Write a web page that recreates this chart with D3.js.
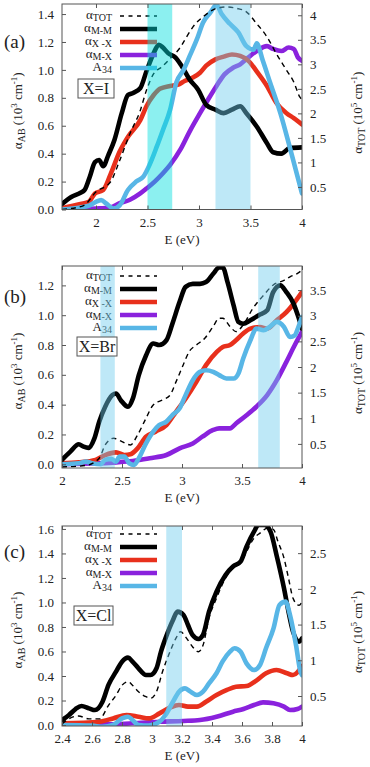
<!DOCTYPE html>
<html>
<head>
<meta charset="utf-8">
<script src="https://cdn.jsdelivr.net/npm/d3@7"></script>
<style>
body { margin: 0; background: #fff; }
</style>
</head>
<body>
<script>
// ---- data: [E (eV), value] ----
// panel (a) X=I
var a_tot = [[1.67,0.04],[1.88,0.12],[2.0,0.40],[2.14,0.60],[2.23,1.04],[2.33,1.59],[2.43,2.06],[2.49,2.47],[2.56,2.81],[2.64,2.95],[2.72,3.12],[2.82,3.35],[2.88,3.56],[2.94,3.76],[3.04,3.97],[3.17,4.14],[3.27,4.17],[3.37,4.14],[3.46,4.07],[3.56,3.83],[3.66,3.56],[3.75,3.22],[3.85,2.88],[3.92,2.64],[3.98,2.33],[4.0,2.28]];
var a_mm = [[1.67,0.04],[1.76,0.09],[1.85,0.12],[1.89,0.14],[1.94,0.235],[1.99,0.34],[2.03,0.355],[2.07,0.31],[2.12,0.39],[2.18,0.50],[2.25,0.69],[2.31,0.82],[2.36,0.835],[2.43,0.87],[2.49,0.99],[2.56,1.12],[2.61,1.18],[2.65,1.16],[2.70,1.12],[2.77,1.09],[2.83,1.03],[2.91,0.93],[2.99,0.86],[3.07,0.75],[3.16,0.715],[3.24,0.69],[3.32,0.715],[3.40,0.74],[3.46,0.69],[3.56,0.595],[3.66,0.475],[3.72,0.41],[3.80,0.40],[3.88,0.44],[4.0,0.445]];
var a_xx = [[1.67,0.01],[1.85,0.04],[1.93,0.055],[1.99,0.115],[2.07,0.14],[2.14,0.25],[2.23,0.415],[2.31,0.52],[2.43,0.64],[2.49,0.74],[2.56,0.82],[2.62,0.865],[2.72,0.885],[2.80,0.895],[2.86,0.92],[2.94,0.945],[3.01,0.98],[3.07,1.03],[3.16,1.075],[3.24,1.095],[3.32,1.11],[3.40,1.10],[3.48,1.065],[3.56,0.99],[3.66,0.885],[3.75,0.765],[3.85,0.69],[3.92,0.655],[4.0,0.61]];
var a_mx = [[1.67,0.0],[2.0,0.007],[2.14,0.015],[2.23,0.045],[2.33,0.07],[2.43,0.115],[2.49,0.15],[2.57,0.20],[2.65,0.26],[2.72,0.32],[2.82,0.43],[2.91,0.56],[3.01,0.69],[3.09,0.79],[3.17,0.885],[3.25,0.97],[3.33,1.015],[3.40,1.04],[3.48,1.09],[3.56,1.135],[3.66,1.17],[3.72,1.15],[3.80,1.135],[3.87,1.16],[3.92,1.15],[3.96,1.09],[4.0,1.065]];
var a_a34 = [[1.67,0.0],[1.85,0.015],[1.94,0.03],[2.0,0.055],[2.05,0.067],[2.10,0.043],[2.17,0.007],[2.23,0.03],[2.31,0.14],[2.39,0.20],[2.46,0.235],[2.52,0.32],[2.59,0.45],[2.65,0.57],[2.72,0.715],[2.78,0.91],[2.85,1.00],[2.91,1.10],[2.98,1.22],[3.04,1.34],[3.11,1.41],[3.17,1.465],[3.22,1.40],[3.30,1.33],[3.38,1.27],[3.46,1.17],[3.53,1.145],[3.56,1.19],[3.62,1.065],[3.69,0.91],[3.79,0.69],[3.88,0.45],[4.0,0.115]];
// panel (b) X=Br
var b_tot = [[2.0,0.05],[2.2,0.08],[2.31,0.22],[2.36,0.48],[2.43,0.61],[2.50,0.545],[2.57,0.48],[2.63,0.675],[2.70,1.0],[2.76,1.26],[2.84,1.36],[2.90,1.45],[2.95,1.71],[3.01,2.04],[3.06,2.30],[3.12,2.43],[3.19,2.56],[3.26,2.79],[3.31,2.95],[3.34,2.95],[3.40,2.79],[3.45,2.69],[3.51,2.82],[3.59,3.14],[3.68,3.40],[3.76,3.60],[3.85,3.69],[3.90,3.76],[3.96,3.82],[4.0,3.89]];
var b_mm = [[2.0,0.03],[2.07,0.085],[2.14,0.134],[2.18,0.118],[2.22,0.11],[2.27,0.174],[2.31,0.285],[2.36,0.386],[2.42,0.464],[2.45,0.475],[2.49,0.43],[2.55,0.386],[2.59,0.44],[2.64,0.598],[2.70,0.73],[2.76,0.81],[2.81,0.80],[2.87,0.832],[2.92,0.943],[2.98,1.09],[3.03,1.19],[3.09,1.21],[3.15,1.21],[3.20,1.222],[3.26,1.278],[3.31,1.32],[3.34,1.32],[3.38,1.22],[3.43,1.066],[3.47,0.955],[3.51,0.943],[3.57,0.966],[3.64,1.0],[3.71,1.033],[3.76,1.155],[3.82,1.20],[3.87,1.155],[3.93,1.077],[3.97,0.988],[4.0,0.91]];
var b_xx = [[2.0,0.007],[2.14,0.013],[2.28,0.029],[2.36,0.062],[2.45,0.08],[2.52,0.062],[2.57,0.067],[2.63,0.107],[2.70,0.185],[2.78,0.219],[2.87,0.263],[2.95,0.352],[3.03,0.44],[3.12,0.553],[3.20,0.665],[3.29,0.754],[3.34,0.787],[3.40,0.80],[3.45,0.832],[3.51,0.877],[3.57,0.91],[3.65,0.92],[3.71,0.91],[3.79,0.966],[3.87,1.02],[3.93,1.077],[4.0,1.155]];
var b_mx = [[2.0,0.0],[2.31,0.007],[2.45,0.013],[2.59,0.022],[2.73,0.04],[2.87,0.062],[2.98,0.107],[3.09,0.14],[3.17,0.185],[3.26,0.23],[3.31,0.241],[3.40,0.241],[3.45,0.274],[3.54,0.33],[3.62,0.386],[3.71,0.464],[3.79,0.564],[3.87,0.687],[3.94,0.80],[4.0,0.888]];
var b_a34 = [[2.0,0.0],[2.14,0.007],[2.20,0.018],[2.25,0.007],[2.32,0.0],[2.36,0.029],[2.41,0.036],[2.45,0.018],[2.48,0.051],[2.52,0.051],[2.56,0.007],[2.60,-0.004],[2.64,0.04],[2.70,0.14],[2.76,0.219],[2.81,0.263],[2.87,0.286],[2.92,0.33],[2.98,0.375],[3.03,0.464],[3.09,0.564],[3.15,0.62],[3.20,0.631],[3.26,0.62],[3.31,0.598],[3.37,0.575],[3.43,0.575],[3.47,0.609],[3.51,0.709],[3.57,0.832],[3.62,0.91],[3.68,0.899],[3.73,0.921],[3.79,0.955],[3.85,0.921],[3.90,0.854],[3.94,0.865],[3.97,0.921],[4.0,0.988]];
// panel (c) X=Cl
var c_tot = [[2.4,0.11],[2.445,0.18],[2.51,0.22],[2.58,0.18],[2.65,0.18],[2.71,0.37],[2.76,0.51],[2.80,0.65],[2.84,0.70],[2.87,0.65],[2.91,0.56],[2.96,0.49],[2.99,0.47],[3.03,0.56],[3.07,0.84],[3.12,1.12],[3.16,1.31],[3.19,1.40],[3.23,1.31],[3.27,1.19],[3.31,1.12],[3.34,1.21],[3.38,1.59],[3.43,1.87],[3.49,2.15],[3.54,2.29],[3.59,2.36],[3.63,2.52],[3.68,2.71],[3.72,2.78],[3.77,2.85],[3.81,2.83],[3.84,2.66],[3.88,2.43],[3.91,2.15],[3.94,1.87],[3.98,1.77],[4.0,1.82]];
var c_mm = [[2.4,0.04],[2.445,0.08],[2.49,0.13],[2.53,0.155],[2.58,0.136],[2.62,0.122],[2.67,0.19],[2.71,0.327],[2.76,0.435],[2.80,0.517],[2.84,0.55],[2.87,0.517],[2.91,0.463],[2.96,0.408],[2.99,0.408],[3.03,0.463],[3.06,0.599],[3.09,0.707],[3.14,0.857],[3.17,0.925],[3.21,0.898],[3.24,0.816],[3.27,0.735],[3.31,0.702],[3.34,0.735],[3.38,0.925],[3.43,1.088],[3.49,1.224],[3.54,1.293],[3.59,1.333],[3.63,1.456],[3.68,1.578],[3.71,1.633],[3.75,1.633],[3.79,1.578],[3.83,1.388],[3.88,1.116],[3.91,0.925],[3.94,0.762],[3.98,0.68],[4.0,0.707]];
var c_xx = [[2.4,0.014],[2.65,0.027],[2.74,0.054],[2.83,0.082],[2.91,0.068],[2.98,0.054],[3.05,0.095],[3.12,0.141],[3.18,0.163],[3.24,0.15],[3.30,0.15],[3.36,0.19],[3.43,0.245],[3.50,0.286],[3.56,0.313],[3.63,0.318],[3.70,0.367],[3.76,0.422],[3.83,0.449],[3.90,0.422],[3.94,0.408],[4.0,0.48]];
var c_mx = [[2.4,0.005],[2.65,0.005],[2.87,0.014],[3.05,0.027],[3.21,0.033],[3.32,0.041],[3.43,0.068],[3.54,0.109],[3.61,0.131],[3.68,0.163],[3.74,0.185],[3.81,0.177],[3.88,0.15],[3.92,0.122],[3.97,0.131],[4.0,0.15]];
var c_a34 = [[2.4,0.0],[2.60,-0.005],[2.67,-0.014],[2.74,0.0],[2.80,0.054],[2.84,0.068],[2.87,0.041],[2.91,0.0],[2.98,-0.005],[3.05,0.027],[3.09,0.082],[3.14,0.19],[3.18,0.272],[3.22,0.299],[3.25,0.278],[3.30,0.245],[3.34,0.272],[3.38,0.34],[3.43,0.422],[3.47,0.517],[3.52,0.599],[3.55,0.626],[3.59,0.599],[3.63,0.503],[3.68,0.449],[3.72,0.49],[3.76,0.626],[3.81,0.789],[3.85,0.98],[3.89,1.007],[3.92,0.898],[3.96,0.653],[3.99,0.435],[4.0,0.408]];

// highlighted energy windows
var a_bands = [[2.5,2.74],[3.16,3.5]];
var b_bands = [[2.32,2.44],[3.635,3.815]];
var c_bands = [[3.095,3.2]];

// tick values
var a_xticks = [2,2.5,3,3.5,4], a_yticks = [0,0.2,0.4,0.6,0.8,1.0,1.2,1.4], a_y2ticks = [0.5,1,1.5,2,2.5,3,3.5,4];
var b_xticks = [2,2.5,3,3.5,4], b_yticks = [0,0.2,0.4,0.6,0.8,1.0,1.2], b_y2ticks = [0.5,1,1.5,2,2.5,3,3.5];
var c_xticks = [2.4,2.6,2.8,3,3.2,3.4,3.6,3.8,4], c_yticks = [0,0.2,0.4,0.6,0.8,1.0,1.2,1.4,1.6], c_y2ticks = [0.5,1,1.5,2,2.5];

var legendNames = [["α","TOT"],["α","M-M"],["α","X -X"],["α","M-X"],["A","34"]];
var colors = {mm:"#000000", xx:"#e8301c", mx:"#8a22dd", a34:"#58b6e6"};
var SERIF = '"Liberation Serif", "DejaVu Serif", serif';

var panels = [
  {tag:"(a)", box:"X=I", top:4, bottom:209.5, x:[1.67,4], y:[0,1.472], y2:[0.04,4.23],
   tot:a_tot, mm:a_mm, xx:a_xx, mx:a_mx, a34:a_a34, bands:a_bands,
   bandColors:["#00dede","#6fcdee"], xt:a_xticks, yt:a_yticks, y2t:a_y2ticks,
   legTop:16, boxY:79, boxX:78, boxW:36, tagY:48},
  {tag:"(b)", box:"X=Br", top:266, bottom:468, x:[2,4], y:[-0.025,1.33], y2:[0.03,3.97],
   tot:b_tot, mm:b_mm, xx:b_xx, mx:b_mx, a34:b_a34, bands:b_bands,
   bandColors:["#6fcdee","#6fcdee"], xt:b_xticks, yt:b_yticks, y2t:b_y2ticks,
   legTop:276, boxY:337, boxX:77, boxW:40, tagY:303},
  {tag:"(c)", box:"X=Cl", top:526, bottom:726, x:[2.4,4], y:[-0.008,1.624], y2:[0.08,2.88],
   tot:c_tot, mm:c_mm, xx:c_xx, mx:c_mx, a34:c_a34, bands:c_bands,
   bandColors:["#6fcdee"], xt:c_xticks, yt:c_yticks, y2t:c_y2ticks,
   legTop:534, boxY:606, boxX:74, boxW:39, tagY:558}
];

var W = 370, H = 767, L = 62, R = 302;
var svg = d3.select("body").append("svg").attr("width", W).attr("height", H);

function fmtX(v){ return d3.format("~g")(v); }

panels.forEach(function(p, pi){
  var x = d3.scaleLinear().domain(p.x).range([L, R]);
  var y = d3.scaleLinear().domain(p.y).range([p.bottom, p.top]);
  var y2 = d3.scaleLinear().domain(p.y2).range([p.bottom, p.top]);
  var g = svg.append("g");

  var clipId = "clip" + pi;
  g.append("clipPath").attr("id", clipId).append("rect")
    .attr("x", L).attr("y", p.top).attr("width", R - L).attr("height", p.bottom - p.top);
  var plot = g.append("g").attr("clip-path", "url(#" + clipId + ")");

  var line = d3.line().x(d => x(d[0])).y(d => y(d[1])).curve(d3.curveMonotoneX);
  var line2 = d3.line().x(d => x(d[0])).y(d => y2(d[1])).curve(d3.curveMonotoneX);

  // thick series
  [["mx",p.mx],["xx",p.xx],["mm",p.mm],["a34",p.a34]].forEach(function(s){
    plot.append("path").attr("d", line(s[1]))
      .attr("fill", "none").attr("stroke", colors[s[0]])
      .attr("stroke-width", 4.6).attr("stroke-linejoin", "round").attr("stroke-linecap", "round");
  });
  // total, right axis
  plot.append("path").attr("d", line2(p.tot))
    .attr("fill", "none").attr("stroke", "#000").attr("stroke-width", 1.4)
    .attr("stroke-dasharray", "5,4");

  // legend
  legendNames.forEach(function(n, i){
    var ly = p.legTop + i * 13;
    var t = g.append("text").attr("x", 112).attr("y", ly + 3).attr("text-anchor", "end")
      .style("font-size", "13px");
    t.append("tspan").text(n[0]);
    t.append("tspan").attr("dy", 2).style("font-size", "10px").text(n[1]);
    var key = ["tot","mm","xx","mx","a34"][i];
    g.append("line").attr("x1", 120).attr("x2", 157).attr("y1", ly).attr("y2", ly)
      .attr("stroke", key == "tot" ? "#000" : colors[key])
      .attr("stroke-width", key == "tot" ? 1.4 : 4.6)
      .attr("stroke-dasharray", key == "tot" ? "4,4.5" : null);
  });

  // shaded windows, drawn over the curves
  p.bands.forEach(function(b, i){
    g.append("rect").attr("x", x(b[0])).attr("width", x(b[1]) - x(b[0]))
      .attr("y", p.top).attr("height", p.bottom - p.top)
      .attr("fill", p.bandColors[i]).attr("opacity", 0.45);
  });

  // frame
  g.append("rect").attr("x", L).attr("y", p.top).attr("width", R - L).attr("height", p.bottom - p.top)
    .attr("fill", "none").attr("stroke", "#555").attr("stroke-width", 1);

  // axes with inward ticks
  var ax = g.append("g").attr("transform", "translate(0," + p.bottom + ")")
    .call(d3.axisBottom(x).tickValues(p.xt).tickFormat(fmtX).tickSizeInner(-4).tickSizeOuter(0).tickPadding(8));
  var axTop = g.append("g").attr("transform", "translate(0," + p.top + ")")
    .call(d3.axisTop(x).tickValues(p.xt).tickFormat("").tickSizeInner(-4).tickSizeOuter(0));
  var ay = g.append("g").attr("transform", "translate(" + L + ",0)")
    .call(d3.axisLeft(y).tickValues(p.yt).tickFormat(d3.format(".1f")).tickSizeInner(-4).tickSizeOuter(0).tickPadding(8));
  var ay2 = g.append("g").attr("transform", "translate(" + R + ",0)")
    .call(d3.axisRight(y2).tickValues(p.y2t).tickFormat(d3.format("~g")).tickSizeInner(-4).tickSizeOuter(0).tickPadding(8));
  [ax, axTop, ay, ay2].forEach(function(a){
    a.attr("font-family", null).attr("font-size", null);
    a.select(".domain").remove();
    a.selectAll("line").attr("stroke", "#555");
    a.selectAll("text").style("font-size", "13px").attr("fill", "#222");
  });

  // X=.. box
  g.append("rect").attr("x", p.boxX).attr("y", p.boxY).attr("width", p.boxW).attr("height", 19)
    .attr("fill", "#fff").attr("stroke", "#555");
  g.append("text").attr("x", p.boxX + p.boxW / 2).attr("y", p.boxY + 15)
    .attr("text-anchor", "middle").style("font-size", "16px").text(p.box);

  // panel tag
  g.append("text").attr("x", 4).attr("y", p.tagY).style("font-size", "19px").text(p.tag);

  // axis titles
  var mid = (p.top + p.bottom) / 2;
  g.append("text").attr("x", 182).attr("y", p.bottom + 34).attr("text-anchor", "middle")
    .style("font-size", "13px").text("E (eV)");

  var lt = g.append("text").attr("transform", "translate(22," + (mid + 4) + ") rotate(-90)")
    .attr("text-anchor", "middle").style("font-size", "13px");
  lt.append("tspan").text("α");
  lt.append("tspan").attr("dy", 3).style("font-size", "10px").text("AB");
  lt.append("tspan").attr("dy", -3).text(" (10");
  lt.append("tspan").attr("dy", -5).style("font-size", "9px").text("3");
  lt.append("tspan").attr("dy", 5).text(" cm");
  lt.append("tspan").attr("dy", -5).style("font-size", "9px").text("-1");
  lt.append("tspan").attr("dy", 5).text(")");

  var rt = g.append("text").attr("transform", "translate(362," + (mid + 6) + ") rotate(-90)")
    .attr("text-anchor", "middle").style("font-size", "13px");
  rt.append("tspan").text("α");
  rt.append("tspan").attr("dy", 3).style("font-size", "10px").text("TOT");
  rt.append("tspan").attr("dy", -3).text(" (10");
  rt.append("tspan").attr("dy", -5).style("font-size", "9px").text("5");
  rt.append("tspan").attr("dy", 5).text(" cm");
  rt.append("tspan").attr("dy", -5).style("font-size", "9px").text("-1");
  rt.append("tspan").attr("dy", 5).text(")");
});

svg.selectAll("text").style("font-family", SERIF).style("fill", "#222");
</script>
</body>
</html>
